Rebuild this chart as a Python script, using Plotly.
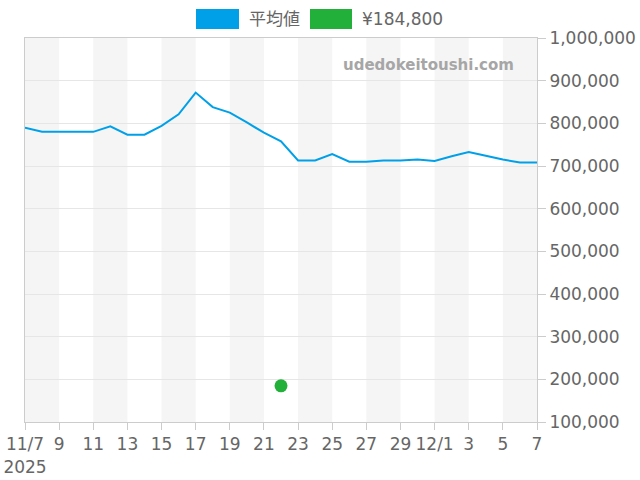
import plotly.graph_objects as go
import pandas as pd

# daily average price, 2025-11-07 .. 2025-12-07
dates = pd.date_range("2025-11-07", "2025-12-07", freq="D")
avg_price = [
    790000, 780500, 780000, 780000, 780000, 793000, 773500, 773500,
    794000, 821000, 872000, 838000, 825000, 802000, 778000, 758000,
    713000, 713000, 728000, 710000, 710000, 713000, 713000, 715000,
    712000, 723000, 733000, 724000, 715000, 708000, 708000,
]

# single listing price
point_date = ["2025-11-22"]
point_price = [184800]

tick_dates = pd.date_range("2025-11-07", "2025-12-07", freq="2D")
tick_text = ["11/7<br>2025", "9", "11", "13", "15", "17", "19", "21", "23",
             "25", "27", "29", "12/1", "3", "5", "7"]

y_ticks = [100000, 200000, 300000, 400000, 500000, 600000, 700000, 800000,
           900000, 1000000]

FONT = "DejaVu Sans, Noto Sans CJK JP, sans-serif"
BLUE = "#00a0e9"
GREEN = "#22b03a"

fig = go.Figure()

fig.add_trace(go.Scatter(
    x=dates, y=avg_price, mode="lines",
    line=dict(color=BLUE, width=2),
    name="平均値", showlegend=False,
))
fig.add_trace(go.Scatter(
    x=point_date, y=point_price, mode="markers",
    marker=dict(color=GREEN, size=13),
    name="¥184,800", showlegend=False,
))

# alternating background bands, every other 2-day span
for i in range(0, len(tick_dates) - 1, 2):
    fig.add_vrect(x0=tick_dates[i], x1=tick_dates[i + 1],
                  fillcolor="#f5f5f5", line_width=0, layer="below")

# hand-drawn legend (rectangle swatches)
legend_items = [("平均値", BLUE, 196, 239, 247), ("¥184,800", GREEN, 310, 352, 360)]
for label, col, x0, x1, tx in legend_items:
    fig.add_shape(type="rect", xref="paper", yref="paper",
                  x0=(x0 - 25) / 512, x1=(x1 - 25) / 512,
                  y0=(422 - 29) / 384, y1=(422 - 9) / 384,
                  fillcolor=col, line_width=0)
    fig.add_annotation(text=label, xref="paper", yref="paper",
                       x=(tx - 25) / 512, y=(422 - 19) / 384,
                       xanchor="left", yanchor="middle", showarrow=False,
                       font=dict(family=FONT, size=17, color="#666666"))

fig.add_annotation(text="<b>udedokeitoushi.com</b>", xref="paper", yref="paper",
                   x=(516 - 25) / 512, y=(422 - 65) / 384,
                   xanchor="right", yanchor="middle", showarrow=False,
                   font=dict(family=FONT, size=15, color="#a6a6a6"))

fig.update_layout(
    width=640, height=480,
    margin=dict(l=25, r=103, t=38, b=58),
    paper_bgcolor="white", plot_bgcolor="white",
    font=dict(family=FONT, size=17, color="#666666"),
    showlegend=False,
    xaxis=dict(
        range=[dates[0], dates[-1]], automargin=False,
        tickvals=tick_dates, ticktext=tick_text,
        showgrid=False, zeroline=False,
        showline=True, linecolor="#cccccc", linewidth=1, mirror=True,
        ticks="outside", ticklen=7, tickcolor="#cccccc",
        tickangle=0,
    ),
    yaxis=dict(
        range=[100000, 1000000], side="right", automargin=False,
        tickvals=y_ticks, tickformat=",d",
        showgrid=True, gridcolor="#e6e6e6", zeroline=False,
        showline=True, linecolor="#cccccc", linewidth=1, mirror=True,
        ticks="outside", ticklen=8, tickcolor="#cccccc",
    ),
)

# page body has a default margin; drop it so the chart fills the window
fig.write_html("out.html", config={"displayModeBar": False},
               post_script="document.body.style.margin='0';")
